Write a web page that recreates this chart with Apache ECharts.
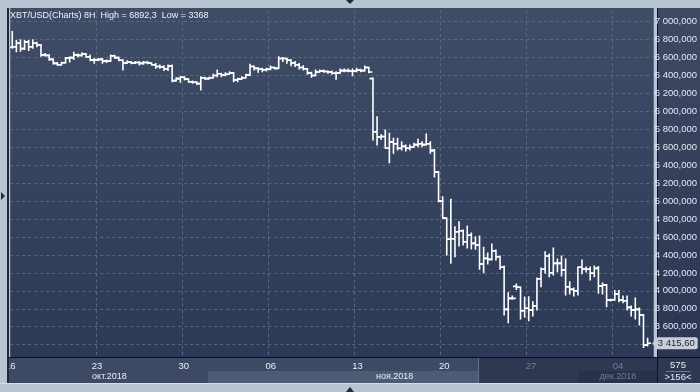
<!DOCTYPE html>
<html><head><meta charset="utf-8">
<script src="https://cdn.jsdelivr.net/npm/echarts@6/dist/echarts.min.js"></script>
<style>html,body{margin:0;padding:0;background:#b9c4d3;}#c{width:700px;height:392px;}</style>
</head><body><div id="c"></div>
<script>
// ---- data: 8H OHLC bars, XBT/USD, from 16 Oct 2018 ----
const openP = [6715,6720,6760,6700,6775,6720,6760,6740,6630,6625,
6580,6535,6520,6542,6595,6600,6630,6625,6640,6610,
6575,6575,6580,6560,6560,6620,6600,6570,6540,6550,
6540,6545,6535,6545,6540,6520,6500,6495,6475,6505,
6343,6365,6380,6360,6330,6325,6310,6375,6365,6375,
6400,6420,6405,6415,6430,6350,6360,6375,6405,6500,
6480,6470,6465,6470,6490,6480,6590,6590,6570,6540,
6520,6490,6475,6430,6400,6440,6450,6445,6440,6425,
6430,6455,6455,6450,6450,6460,6455,6490,6365,5774,
5715,5720,5590,5660,5640,5590,5610,5590,5600,5630,
5640,5630,5640,5570,5324,5000,4810,4575,4580,4658,
4670,4547,4620,4529,4510,4299,4362,4350,4447,4380,
4262,3793,3916,4050,4039,3778,3805,3786,3833,4135,
4240,4388,4201,4306,4306,4232,4045,4016,4000,4262,
4243,4240,4195,4250,4053,4064,3897,3900,3964,3897,
3889,3815,3786,3793,3730,3395];
const highP = [6892,6790,6800,6790,6790,6800,6770,6745,6645,6632,
6584,6545,6548,6600,6606,6659,6640,6655,6645,6630,
6590,6590,6590,6573,6630,6625,6605,6575,6565,6555,
6555,6555,6555,6555,6540,6535,6517,6510,6517,6517,
6376,6387,6385,6362,6339,6330,6387,6380,6380,6413,
6462,6425,6432,6442,6435,6370,6387,6413,6525,6505,
6487,6480,6480,6506,6492,6610,6600,6592,6575,6555,
6535,6510,6478,6436,6462,6462,6462,6450,6450,6442,
6473,6473,6473,6473,6480,6470,6506,6492,6372,5941,
5740,5792,5756,5700,5700,5662,5625,5625,5644,5690,
5662,5748,5662,5575,5330,5050,4811,5020,4714,4770,
4678,4722,4644,4603,4610,4485,4421,4521,4455,4388,
4276,3978,3942,4075,4042,3931,3935,3878,4142,4254,
4436,4410,4477,4354,4388,4354,4101,4030,4265,4343,
4265,4265,4276,4270,4087,4070,3905,4003,4003,3942,
3942,3830,3920,3808,3735,3470];
const lowP = [6705,6665,6670,6690,6680,6705,6720,6615,6618,6570,
6528,6515,6515,6540,6551,6580,6610,6618,6603,6565,
6537,6565,6537,6545,6555,6592,6565,6462,6535,6530,
6535,6517,6525,6530,6517,6480,6480,6455,6455,6330,
6340,6325,6350,6325,6313,6302,6239,6358,6358,6370,
6387,6387,6398,6413,6330,6330,6358,6372,6400,6462,
6436,6443,6450,6465,6473,6478,6555,6537,6510,6500,
6473,6462,6413,6380,6398,6438,6436,6425,6413,6358,
6425,6443,6443,6398,6443,6443,6450,6432,5681,5625,
5690,5588,5428,5533,5570,5570,5558,5570,5600,5606,
5606,5625,5533,5270,4993,4808,4399,4306,4380,4500,
4510,4477,4466,4462,4240,4201,4299,4343,4343,4240,
3730,3644,3905,4016,3685,3707,3666,3718,3786,4046,
4198,4157,4176,4213,4165,3953,3964,3942,3953,4190,
4210,4120,4157,3972,3964,3822,3886,3895,3878,3867,
3786,3719,3685,3618,3368,3385];
const closeP = [6720,6760,6700,6775,6720,6760,6740,6630,6625,6580,
6535,6520,6542,6595,6600,6630,6625,6640,6610,6575,
6575,6580,6560,6560,6620,6600,6570,6540,6550,6540,
6545,6535,6545,6540,6520,6500,6495,6475,6505,6343,
6365,6380,6360,6330,6325,6310,6375,6365,6375,6400,
6420,6405,6415,6430,6350,6360,6375,6405,6500,6480,
6470,6465,6470,6490,6480,6590,6590,6570,6540,6520,
6490,6475,6430,6400,6440,6450,6445,6440,6425,6430,
6455,6455,6450,6450,6460,6455,6490,6440,5774,5715,
5720,5590,5660,5640,5590,5610,5590,5600,5630,5640,
5630,5640,5560,5324,5000,4810,4575,4580,4658,4670,
4547,4620,4529,4510,4299,4362,4350,4447,4380,4262,
3793,3916,3916,4039,3778,3805,3786,3833,4135,4240,
4388,4201,4306,4306,4232,4045,4016,4000,4262,4243,
4240,4195,4250,4053,4064,3897,3900,3964,3897,3889,
3815,3786,3793,3730,3395,3415.6];

const slotCount = 158;                 // 8H slots on the axis (incl. empty right margin)
const weekLabels = ['16','23','30','06','13','20','27','04'];
const weekStep = 21;                   // 3 bars a day * 7 days
const monthLabels = ['окт.2018','ноя.2018','дек.2018'];
const monthLabelIdx = [24, 93, 147];
const yMin = 3200, yMax = 7200, yStep = 200;
const lastPrice = 3415.6;
const titleText = 'XBT/USD(Charts) 8H  High = 6892,3  Low = 3368';
const counterTop = '575', counterBottom = '>156<';

const categories = Array.from({length: slotCount}, (_, i) => String(i));
const bars = openP.map((o, i) => [i, o, highP[i], lowP[i], closeP[i]]);

const FONT = '"Liberation Sans", Arial, sans-serif';
function fmtY(v){
  const th = Math.floor(v/1000), r = Math.round(v % 1000);
  return th + ' ' + String(r).padStart(3,'0') + ',000';
}
function fmtPrice(v){
  const th = Math.floor(v/1000);
  const r = v - th*1000;
  const s = r.toFixed(2).split('.');
  return th + ' ' + s[0].padStart(3,'0') + ',' + s[1];
}

function renderItem(params, api){
  const i = api.value(0);
  const band = api.size([1, 0])[0];
  const x = api.coord([i, api.value(1)])[0] + band/2;
  const yO = api.coord([i, api.value(1)])[1];
  const yH = api.coord([i, api.value(2)])[1];
  const yL = api.coord([i, api.value(3)])[1];
  const yC = api.coord([i, api.value(4)])[1];
  const t = 3.5;
  const st = {stroke:'#ffffff', lineWidth:1.6};
  return {type:'group', children:[
    {type:'line', shape:{x1:x, y1:yH-0.5, x2:x, y2:yL+0.5}, style:st},
    {type:'line', shape:{x1:x-t, y1:yO, x2:x, y2:yO}, style:st},
    {type:'line', shape:{x1:x, y1:yC, x2:x+t, y2:yC}, style:st}
  ]};
}

const gridLeft = 10.23, gridWidth = 649.04;
const plotGrad = {type:'linear', x:0, y:0, x2:0, y2:1,
  colorStops:[{offset:0, color:'#404d67'}, {offset:1, color:'#2c3956'}]};

const chart = echarts.init(document.getElementById('c'), null, {renderer:'canvas'});
chart.setOption({
  animation:false,
  backgroundColor:'#b9c4d3',
  title:{text:titleText, left:5, top:6, z:12,
    textStyle:{color:'#eef2f8', fontSize:9, fontWeight:'normal', fontFamily:FONT}},
  grid:[
    {left:gridLeft, width:gridWidth, top:3.76, height:358.82, show:true, borderWidth:0, backgroundColor:plotGrad},
    {left:gridLeft, width:gridWidth, top:300, height:57, show:false}
  ],
  xAxis:[
    {gridIndex:0, type:'category', data:categories, boundaryGap:false, position:'bottom',
     axisLine:{show:false}, axisTick:{show:false}, axisLabel:{show:false},
     splitLine:{show:true, interval:(idx)=> idx>0 && idx%weekStep===0,
       lineStyle:{color:'#5b6881', width:1, type:[3,3]}}},
    {gridIndex:1, type:'category', data:categories, boundaryGap:false, z:10, position:'bottom',
     axisLine:{show:false}, axisTick:{show:false}, splitLine:{show:false},
     axisLabel:{show:true, margin:4, fontSize:9.5, fontFamily:FONT,
       interval:(idx)=> idx%weekStep===0 && idx/weekStep < weekLabels.length,
       formatter:(v, idx)=> weekLabels[idx/weekStep] || '',
       color:(v, idx)=> (Number(v) >= 126 ? '#6e7b94' : '#eaeff7')}},
    {gridIndex:1, type:'category', data:categories, boundaryGap:false, z:10, position:'bottom', offset:11,
     axisLabel:{show:true, margin:4, fontSize:9, fontFamily:FONT,
       interval:(idx)=> monthLabelIdx.indexOf(idx) >= 0,
       formatter:(v, idx)=> { const k = monthLabelIdx.indexOf(idx); return k >= 0 ? monthLabels[k] : ''; },
       color:(v, idx)=> (Number(v) >= 126 ? '#6e7b94' : '#eaeff7')},
     axisLine:{show:false}, axisTick:{show:false}, splitLine:{show:false}}
  ],
  yAxis:[
    {gridIndex:0, type:'value', min:yMin, max:yMax, interval:yStep, position:'left',
     axisLine:{show:false}, axisTick:{show:false}, axisLabel:{show:false},
     splitLine:{show:true, lineStyle:{color:'#5b6881', width:1, type:[3,3]}}},
    {gridIndex:0, type:'value', min:yMin, max:yMax, interval:yStep, position:'right', z:10,
     axisLine:{show:false}, axisTick:{show:false}, splitLine:{show:false},
     axisLabel:{show:true, margin:1, fontSize:9.5, fontFamily:FONT, color:'#e2e9f3',
       formatter:(v)=> (v <= 3400 || v >= 7200) ? '' : fmtY(v)}},
    {gridIndex:1, type:'value', show:false}
  ],
  graphic:[
    {type:'rect', z:5, shape:{x:657, y:8, width:43, height:349}, style:{fill:{type:'linear', x:0, y:0, x2:0, y2:1,
      colorStops:[{offset:0, color:'#3e4a64'}, {offset:1, color:'#2b3752'}]}}},
    {type:'rect', z:5, shape:{x:8, y:357, width:649, height:26}, style:{fill:'#3e4a63'}},
    {type:'rect', z:5, shape:{x:208, y:371, width:270, height:12}, style:{fill:'#4e5b74'}},
    {type:'rect', z:5, shape:{x:479, y:357, width:178, height:26}, style:{fill:'#2e3951'}},
    {type:'rect', z:5, shape:{x:578, y:371, width:79, height:12}, style:{fill:'#28324a'}},
    {type:'line', z:6, shape:{x1:478.5, y1:357, x2:478.5, y2:383}, style:{stroke:'#65728a', lineWidth:1}},
    {type:'rect', z:5, shape:{x:657, y:357, width:43, height:26}, style:{fill:'#2e3951'}},
    {type:'line', z:6, shape:{x1:8, y1:357.5, x2:700, y2:357.5}, style:{stroke:'#0c1019', lineWidth:1}},
    {type:'line', z:6, shape:{x1:657.5, y1:8, x2:657.5, y2:383}, style:{stroke:'#0c1019', lineWidth:1}},
    {type:'text', z:12, style:{x:678, y:365, text:counterTop, fill:'#e6ecf5', font:'9.5px ' + FONT, textAlign:'center', textVerticalAlign:'middle'}},
    {type:'line', z:12, shape:{x1:666, y1:371.5, x2:690, y2:371.5}, style:{stroke:'#6e7b94', lineWidth:1}},
    {type:'text', z:12, style:{x:678, y:377.5, text:counterBottom, fill:'#e6ecf5', font:'9.5px ' + FONT, textAlign:'center', textVerticalAlign:'middle'}},
    {type:'rect', z:11, shape:{x:0, y:0, width:700, height:8}, style:{fill:'#b9c4d3'}},
    {type:'rect', z:11, shape:{x:0, y:0, width:7, height:392}, style:{fill:'#b9c4d3'}},
    {type:'rect', z:11, shape:{x:7, y:8, width:2, height:375}, style:{fill:'#1f2738'}},
    {type:'rect', z:11, shape:{x:0, y:383, width:700, height:9}, style:{fill:'#b9c4d3'}},
    {type:'line', z:11, shape:{x1:0, y1:383.5, x2:700, y2:383.5}, style:{stroke:'#d6dde7', lineWidth:1}},
    {type:'polygon', z:12, shape:{points:[[346,0],[354,0],[350,4]]}, style:{fill:'#1f2a3c'}},
    {type:'polygon', z:12, shape:{points:[[1,192],[1,200],[5,196]]}, style:{fill:'#1f2a3c'}},
    {type:'polygon', z:12, shape:{points:[[346,392],[354,392],[350,387]]}, style:{fill:'#1f2a3c'}}
  ],
  series:[{
    type:'custom', xAxisIndex:0, yAxisIndex:0, z:8,
    renderItem: renderItem,
    encode:{x:0, y:[1,2,3,4]},
    data: bars,
    clip:true,
    markLine:{
      silent:true, symbol:['none','none'], animation:false, z:9,
      lineStyle:{color:'rgba(0,0,0,0)', width:0},
      label:{show:true, position:'end', distance:2, formatter:()=>fmtPrice(lastPrice),
        color:'#1a2232', fontSize:9.5, fontFamily:FONT, backgroundColor:'#c9cfd8',
        padding:[1,3,1,2], borderRadius:2},
      data:[{yAxis:lastPrice}]
    },
    markPoint:{
      silent:true, animation:false, z:9,
      symbol:'path://M0,5 L5,0 L5,10 Z', symbolSize:[4,9], symbolOffset:[0.5,0],
      itemStyle:{color:'#c9cfd8'}, label:{show:false},
      data:[{coord:[String(slotCount-1), lastPrice]}]
    }
  }]
});
</script></body></html>
